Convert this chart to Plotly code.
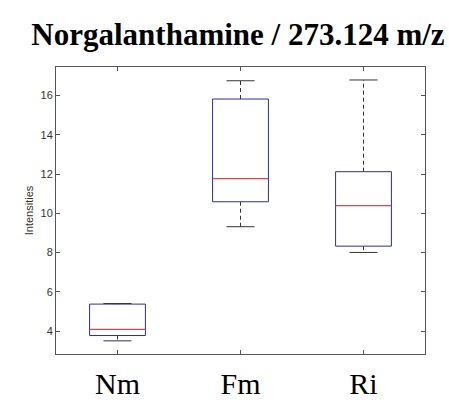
import plotly.graph_objects as go

categories = ["Nm", "Fm", "Ri"]
lower_whisker = [3.51, 9.32, 8.01]
q1 = [3.78, 10.59, 8.33]
median = [4.09, 11.77, 10.39]
q3 = [5.38, 15.82, 12.12]
upper_whisker = [5.41, 16.75, 16.79]
y_ticks = [4, 6, 8, 10, 12, 14, 16]

BOX_HALF = 0.227
CAP_HALF = 0.114
BOX_COLOR = "#2b2ba8"
MED_COLOR = "#d24a4a"
WHISK_COLOR = "#333333"

fig = go.Figure()
for i, cat in enumerate(categories):
    x = i + 1
    # whiskers (dashed)
    fig.add_trace(go.Scatter(x=[x, x, None, x, x],
                             y=[q3[i], upper_whisker[i], None, q1[i], lower_whisker[i]],
                             mode="lines", line=dict(color=WHISK_COLOR, width=1, dash="4px,3px"),
                             hoverinfo="skip", showlegend=False))
    # caps
    fig.add_trace(go.Scatter(x=[x - CAP_HALF, x + CAP_HALF, None, x - CAP_HALF, x + CAP_HALF],
                             y=[upper_whisker[i], upper_whisker[i], None, lower_whisker[i], lower_whisker[i]],
                             mode="lines", line=dict(color=WHISK_COLOR, width=1),
                             hoverinfo="skip", showlegend=False))
    # box
    fig.add_trace(go.Scatter(x=[x - BOX_HALF, x + BOX_HALF, x + BOX_HALF, x - BOX_HALF, x - BOX_HALF],
                             y=[q1[i], q1[i], q3[i], q3[i], q1[i]],
                             mode="lines", line=dict(color=BOX_COLOR, width=1),
                             hoverinfo="skip", showlegend=False))
    # median
    fig.add_trace(go.Scatter(x=[x - BOX_HALF, x + BOX_HALF], y=[median[i], median[i]],
                             mode="lines", line=dict(color=MED_COLOR, width=1.2),
                             hoverinfo="skip", showlegend=False))

fig.update_layout(
    width=449, height=400,
    margin=dict(l=56, r=24, t=67, b=46),
    paper_bgcolor="white", plot_bgcolor="white",
    title=dict(text="<b>Norgalanthamine / 273.124 m/z</b>",
               font=dict(family="Liberation Serif", size=31, color="black"),
               x=0.530, xanchor="center", y=0.915, yanchor="middle"),
    xaxis=dict(range=[0.5, 3.5], tickvals=[1, 2, 3], ticktext=categories,
               showgrid=False, zeroline=False, showline=True, linecolor="#555555",
               linewidth=1, mirror="ticks", ticks="inside", ticklen=4, tickcolor="#555555",
               ticklabelstandoff=3, automargin=False,
               tickfont=dict(family="Liberation Serif", size=30, color="black")),
    yaxis=dict(range=[2.84, 17.45], tickvals=y_ticks, automargin=False,
               showgrid=False, zeroline=False, showline=True, linecolor="#555555",
               linewidth=1, mirror="ticks", ticks="inside", ticklen=4, tickcolor="#555555",
               tickfont=dict(family="Arial", size=11, color="#333333"),
               title=dict(text="Intensities", font=dict(family="Arial", size=11, color="#333333"),
                          standoff=4)),
)

fig.write_html("out.html")
